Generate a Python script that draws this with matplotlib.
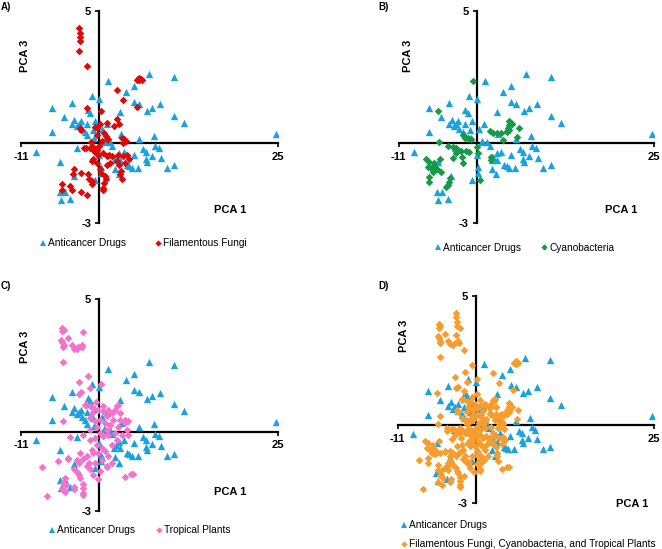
import numpy as np
import matplotlib.pyplot as plt
from matplotlib.lines import Line2D

plt.rcParams['font.family'] = ['Liberation Sans', 'DejaVu Sans']

# anticancer drugs (same set in every panel)
drug_x = [6.9, 10.4, 1.15, 4.8, 3.7, -1.1, 0.0, -3.9, -6.7, 4.9, 5.6, 8.5, 7.3, 6.6, 2.9, -1.6, -1.3, 10.4,
          -5.0, -2.6, -3.9, -3.2, -1.7, -0.6, 1.0, 11.9, -6.7, -2.0, -1.7, 24.7, 5.6, 7.6, 3.0, -0.8, 0.8,
          -8.9, -3.1, 1.8, 7.8, 8.3, 6.1, 6.5, 2.8, 4.8, 7.3, 8.6, 6.5, 6.6, 2.3, -5.5, 3.9, 4.5, 5.4, 9.4,
          10.4, 2.2, 2.7, -3.6, -0.6, -5.6, -4.9, -5.4, -4.1, 0.3, 0.2, 0.2, 0.7, 1.5, 3.4, 2.1, 2.9, 4.2,
          0.0, -2.5, -0.9, -3.5, -2.9]
drug_y = [2.62, 2.52, 2.36, 2.18, 1.93, 1.79, 1.69, 1.51, 1.32, 1.55, 1.50, 1.47, 1.33, 1.24, 1.20, 1.26,
          1.15, 1.04, 0.98, 0.83, 0.75, 0.65, 0.72, 0.84, 0.72, 0.77, 0.42, 0.43, 0.30, 0.35, 0.18, 0.27,
          0.34, 0.20, 0.05, -0.33, -0.19, -0.10, -0.08, -0.18, -0.22, -0.31, -0.38, -0.42, -0.48, -0.54,
          -0.58, -0.70, -0.50, -0.69, -0.82, -0.92, -0.93, -0.92, -0.83, -0.96, -1.17, -1.23, -1.38, -1.84,
          -1.84, -2.14, -2.08, 0.55, -0.9, -1.1, 0.09, 0.06, -0.31, -0.63, -0.63, -0.86, -0.45, 0.55, 0.5,
          0.9, 0.72]

# filamentous fungi
fungi_x = [-2.87, -2.78, -2.73, -2.73, -2.83, -1.7, 5.4, 5.6, 5.8, 5.9, 5.6, 5.3, 2.45, 3.3, 5.2, -1.75,
           0.2, 2.5, -2.7, -2.6, -0.6, -0.4, 0.07, 1.0, 2.0, 2.8, 0.7, 0.9, 1.2, 3.1, 3.5, 3.7, 3.3, -1.3,
           -1.9, -2.1, -0.9, -0.4, -0.2, -0.5, 0.5, 1.0, 1.4, 1.7, -0.9, -1.1, -0.4, 2.6, 3.3, 3.8, 4.1,
           3.6, 2.4, 2.8, 1.5, 1.0, 0.07, 0.2, 0.8, 0.9, 0.6, 0.55, 0.55, 3.0, 2.9, 3.1, -3.6, -3.7, -2.6,
           -1.6, -1.5, -1.05, -5.3, -5.3, -4.1, -3.9, -2.6, -1.7, -1.05, -0.3, 0.4, -1.2, 0.0, -0.7]
fungi_y = [4.34, 4.18, 4.01, 3.86, 3.48, 2.92, 2.42, 2.47, 2.45, 2.40, 2.38, 2.40, 2.03, 1.64, 1.37, 1.33,
           1.22, 0.93, 0.59, 0.50, 0.62, 0.58, 0.72, 0.78, 0.66, 0.72, 0.40, 0.28, 0.15, 0.22, 0.15, 0.09,
           0.03, -0.19, -0.19, -0.16, -0.14, -0.23, -0.42, -0.38, -0.38, -0.48, -0.42, -0.48, -0.58, -0.67,
           -0.73, -0.42, -0.48, -0.43, -0.58, -0.73, -0.67, -0.83, -0.73, -0.83, -0.98, -1.13, -1.23, -1.36,
           -1.49, -1.68, -1.77, -1.05, -1.17, -1.36, -0.98, -1.17, -1.11, -1.17, -1.36, -1.40, -1.55, -1.74,
           -1.61, -1.74, -1.84, -1.96, -1.55, 0.30, 0.10, 0.05, -0.1, -0.30]

# cyanobacteria
cyano_x = [-0.5, -5.5, 4.6, 4.8, 5.0, 4.6, 4.4, 4.2, 4.6, 4.3, 5.9, 5.7, 1.9, 2.3, 2.9, 3.4, 3.7, -2.0,
           -1.6, -1.3, -0.8, -5.3, -4.1, -3.4, -2.9, -2.7, -2.2, -1.5, -1.1, -2.9, -2.1, -3.4, 0.0, 0.2,
           2.0, 2.0, -1.9, -7.2, -6.8, -6.9, -6.5, -6.0, -5.6, -5.1, -6.2, -5.2, -6.0, -6.8, -6.7, -3.7,
           -3.9, -4.1, -4.4, 0.47]
cyano_y = [2.35, 1.24, 0.85, 0.78, 0.72, 0.70, 0.60, 0.48, 0.52, 0.44, 0.59, 0.25, 0.47, 0.40, 0.38, 0.40,
           0.13, 0.30, 0.19, 0.22, 0.16, 0.06, -0.10, -0.15, -0.19, -0.25, -0.28, -0.28, -0.31, -0.38,
           -0.50, -0.54, -0.15, -0.38, -0.50, -0.63, -0.75, -0.60, -0.69, -0.88, -0.94, -0.86, -0.98,
           -1.07, -1.07, -0.60, -0.75, -1.26, -1.45, -1.32, -1.45, -1.58, -1.64, -1.39]

# tropical plants
plant_x = [-5.2, -5.0, -5.2, -4.4, -5.4, -5.2, -5.0, -5.1, -3.9, -3.6, -3.2, -3.0, -2.5, -2.4, -2.3, -5.1,
           -1.6, -2.9, 0.2, -1.3, -2.6, -2.8, -1.9, 2.4, 2.6, -5.1, -4.1, -8.0, -7.4, -5.8, -4.4, -4.8,
           -5.1, -4.7, -5.3, -4.8, -3.5, -3.2, -2.8, -2.7, -3.5, -3.6, -2.3, -2.3, -2.3, -2.3, -2.8, -2.3,
           -1.3, -1.5, -0.25, 3.6, 4.4, 4.7, 1.1, 4.0, 3.6, 4.0, -0.86, -0.16, 0.54, 1.24, 1.7, 1.0, 0.07,
           -0.63, -1.33, 1.94, 2.87, 3.57, 2.64, 1.0, 0.07, -0.63, 0.54, 1.24, 2.17, 3.1, 3.8, -1.33, -0.4,
           0.3, 0.77, -0.86, -1.8, 1.24, 0.3, -0.63, 1.7, -2.7, -3.2, -4.4, -1.8, -1.33, -0.5, -2.0, 0.54,
           2.17, -1.1, 2.87, 0.77, -0.4, 1.47, -1.33, -2.27, 2.4, 1.7, -1.1, -0.16, 1.0, 0.07, -0.86]
plant_y = [3.92, 3.83, 3.78, 3.55, 3.45, 3.37, 3.27, 3.20, 3.27, 3.13, 3.10, 3.20, 3.28, 3.18, 3.76, 2.63,
           2.08, 1.87, 1.79, 1.66, 1.50, 1.43, 0.99, 0.97, 1.02, 0.38, -0.20, -1.32, -2.45, -1.12, -1.04,
           -1.74, -1.93, -2.03, -2.18, -2.30, -1.40, -1.53, -1.65, -1.76, -2.08, -2.18, -1.99, -2.14, -2.31,
           -2.40, -1.17, -1.02, -1.43, -1.20, -1.79, -1.70, -1.62, -1.60, -1.33, 0.40, 0.45, -0.13, 0.89,
           0.82, 0.76, 0.82, 0.70, 0.57, 0.45, 0.38, 0.51, 0.45, 0.45, 0.32, 0.19, 0.07, -0.06, -0.25,
           -0.18, -0.12, -0.06, -0.12, 0.07, -0.31, -0.50, -0.62, -0.75, -0.81, -0.94, -0.94, -1.06, -1.19,
           -1.19, -0.81, -1.06, -1.00, -1.31, 0.95, 1.10, 1.01, 0.97, 0.82, 0.70, 0.70, 0.32, 0.19, 0.26,
           0.07, -0.12, -0.31, -0.50, -0.69, -0.81, -1.31, -1.50, -1.63]

blue = '#18a2de'
panels = [
    dict(tag='A)', x=fungi_x, y=fungi_y, c='#dd0a0a', name='Filamentous Fungi',
         rect=[0.0317, 0.594, 0.388, 0.386], tagpos=(0.001, 0.997),
         pca3=(-10.4, 3.3), pca1=(18.3, -2.5), leg=(0.055, 0.557), ncol=2, colsp=2.9),
    dict(tag='B)', x=cyano_x, y=cyano_y, c='#179a47', name='Cyanobacteria',
         rect=[0.6023, 0.594, 0.3857, 0.386], tagpos=(0.571, 0.997),
         pca3=(-9.7, 3.3), pca1=(20.3, -2.5), leg=(0.652, 0.549), ncol=2, colsp=2.0),
    dict(tag='C)', x=plant_x, y=plant_y, c='#f272cc', name='Tropical Plants',
         rect=[0.0317, 0.0692, 0.388, 0.386], tagpos=(0.001, 0.488),
         pca3=(-10.4, 3.2), pca1=(18.3, -2.3), leg=(0.068, 0.034), ncol=2, colsp=2.1),
    dict(tag='D)', x=fungi_x + cyano_x + plant_x, y=fungi_y + cyano_y + plant_y, c='#f89c2e',
         name='Filamentous Fungi, Cyanobacteria, and Tropical Plants',
         rect=[0.6008, 0.0838, 0.387, 0.377], tagpos=(0.571, 0.488),
         pca3=(-10.1, 3.45), pca1=(22.0, -3.05), leg=(0.600, 0.026), ncol=1, colsp=2.0),
]

fig = plt.figure(figsize=(6.62, 5.49), dpi=100)

for p in panels:
    ax = fig.add_axes(p['rect'])
    ax.scatter(drug_x, drug_y, marker='^', s=28, color=blue, linewidths=0, zorder=3)
    ax.scatter(p['x'], p['y'], marker='D', s=15, color=p['c'], linewidths=0, zorder=4)
    ax.set_xlim(-11, 25)
    ax.set_ylim(-3, 5)
    for s in ['top', 'right']:
        ax.spines[s].set_visible(False)
    ax.spines['left'].set_position(('data', 0))
    ax.spines['bottom'].set_position(('data', 0))
    ax.spines['left'].set_linewidth(1.6)
    ax.spines['bottom'].set_linewidth(1.6)
    ax.set_xticks([-11, 25])
    ax.set_yticks([-3, 5])
    ax.set_xticklabels(['-11', '25'], fontweight='bold', fontsize=8)
    ax.set_yticklabels(['-3', '5'], fontweight='bold', fontsize=8)
    ax.tick_params(length=3, width=1.2, pad=3)
    ax.patch.set_alpha(0)
    ax.text(p['pca3'][0], p['pca3'][1], 'PCA 3', rotation=90, fontweight='bold', fontsize=8,
            ha='center', va='center')
    ax.text(p['pca1'][0], p['pca1'][1], 'PCA 1', fontweight='bold', fontsize=8,
            ha='center', va='center')
    fig.text(p['tagpos'][0], p['tagpos'][1], p['tag'], fontweight='bold', fontsize=7, va='top')

    handles = [Line2D([], [], marker='^', ls='', color=blue, markersize=4.2, markeredgewidth=0),
               Line2D([], [], marker='D', ls='', color=p['c'], markersize=3.2, markeredgewidth=0)]
    fig.legend(handles, ['Anticancer Drugs', p['name']], loc='center left',
               bbox_to_anchor=p['leg'], ncol=p['ncol'], frameon=False, fontsize=7.3,
               handlelength=0.5, handletextpad=0.25, columnspacing=p['colsp'], borderaxespad=0,
               labelspacing=0.9)

fig.savefig('out.png', dpi=100)
